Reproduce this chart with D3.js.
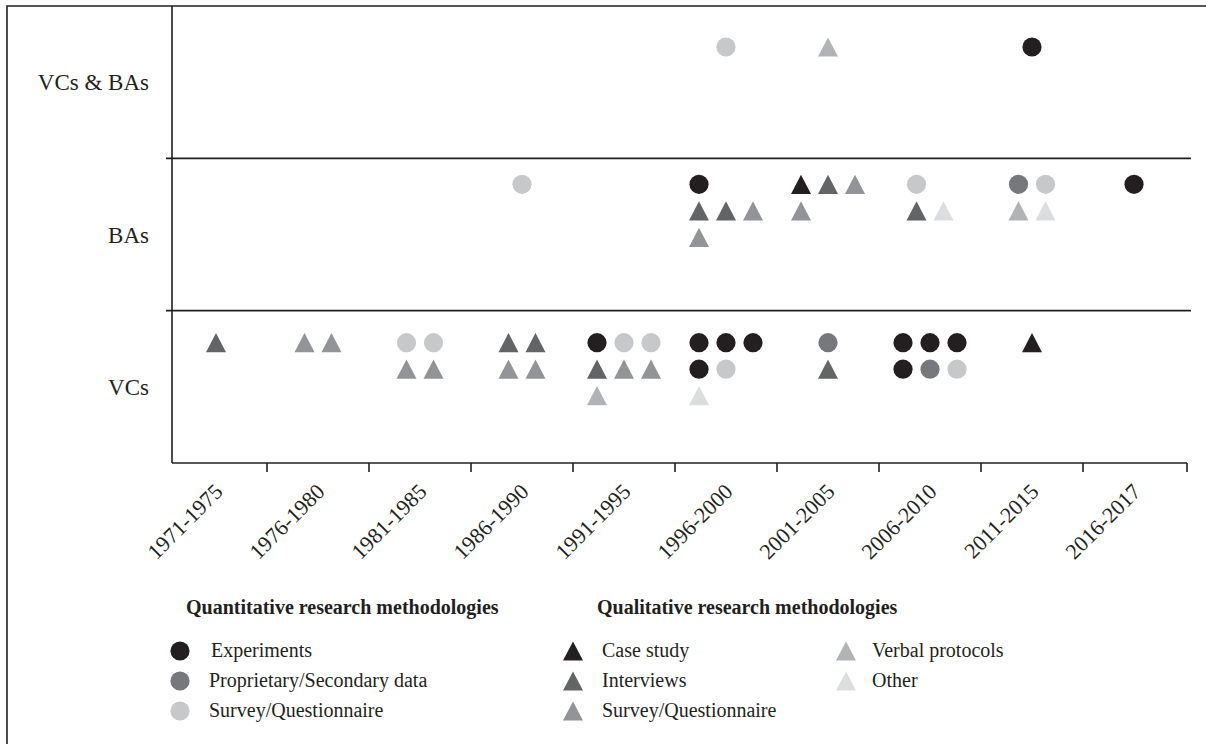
<!DOCTYPE html>
<html>
<head>
<meta charset="utf-8">
<script src="https://cdn.jsdelivr.net/npm/d3@7"></script>
<style>
  body { margin: 0; background: #fff; }
  text { font-family: "Liberation Serif", "Times New Roman", serif; fill: #231f20; }
</style>
</head>
<body>
<svg id="chart" width="1206" height="744"></svg>
<script>
// periods on the x axis, investor groups as lanes
var periods = ["1971-1975", "1976-1980", "1981-1985", "1986-1990", "1991-1995",
               "1996-2000", "2001-2005", "2006-2010", "2011-2015", "2016-2017"];
var lanes = ["VCs & BAs", "BAs", "VCs"];

// methodologies: quantitative ones are circles, qualitative ones triangles
var methods = ["exp", "prop", "surveyC", "case", "int", "surveyT", "verbal", "other"];
var methodLabels = ["Experiments", "Proprietary/Secondary data", "Survey/Questionnaire",
                    "Case study", "Interviews", "Survey/Questionnaire", "Verbal protocols", "Other"];
var methodShapes = ["circle", "circle", "circle", "triangle", "triangle", "triangle", "triangle", "triangle"];
var methodColors = ["#231f20", "#77787b", "#c7c8ca", "#231f20", "#636466", "#929497", "#b1b3b6", "#dcdddf"];

// one mark per study, grouped in rows as in the figure: [period, rows]
var vcsBasCells = [
  ["1996-2000", [["surveyC"]]],
  ["2001-2005", [["verbal"]]],
  ["2011-2015", [["exp"]]]
];
var basCells = [
  ["1986-1990", [["surveyC"]]],
  ["1996-2000", [["exp"], ["int", "int", "surveyT"], ["surveyT"]]],
  ["2001-2005", [["case", "int", "surveyT"], ["surveyT"]]],
  ["2006-2010", [["surveyC"], ["int", "other"]]],
  ["2011-2015", [["prop", "surveyC"], ["verbal", "other"]]],
  ["2016-2017", [["exp"]]]
];
var vcsCells = [
  ["1971-1975", [["int"]]],
  ["1976-1980", [["surveyT", "surveyT"]]],
  ["1981-1985", [["surveyC", "surveyC"], ["surveyT", "surveyT"]]],
  ["1986-1990", [["int", "int"], ["surveyT", "surveyT"]]],
  ["1991-1995", [["exp", "surveyC", "surveyC"], ["int", "surveyT", "surveyT"], ["verbal"]]],
  ["1996-2000", [["exp", "exp", "exp"], ["exp", "surveyC"], ["other"]]],
  ["2001-2005", [["prop"], ["int"]]],
  ["2006-2010", [["exp", "exp", "exp"], ["exp", "prop", "surveyC"]]],
  ["2011-2015", [["case"]]]
];
var laneCells = [vcsBasCells, basCells, vcsCells];

var svg = d3.select("#chart");
var ink = "#231f20";

var x = d3.scaleBand().domain(periods).range([165, 1185]);
var y = d3.scaleBand().domain(lanes).range([6, 463]);
var shape = d3.scaleOrdinal().domain(methods).range(methodShapes);
var color = d3.scaleOrdinal().domain(methods).range(methodColors);

var triangleUp = {
  draw: function(ctx, size) {
    var w = Math.sqrt(size);
    ctx.moveTo(0, -w * 0.48);
    ctx.lineTo(w / 2, w * 0.48);
    ctx.lineTo(-w / 2, w * 0.48);
    ctx.closePath();
  }
};
var circleSym = d3.symbol().type(d3.symbolCircle).size(Math.PI * 9.6 * 9.6);
var triSym = d3.symbol().type(triangleUp).size(400);
function markPath(m) { return shape(m) === "circle" ? circleSym() : triSym(); }

// marks sit on a small grid inside each cell, grid centred on the band
var step = 27, rowGap = 26.5;
var lanePad = [41, 26, 32];
var marks = [];
lanes.forEach(function(lane, li) {
  laneCells[li].forEach(function(cell) {
    var period = cell[0], rows = cell[1];
    var nCols = d3.max(rows, function(r) { return r.length; });
    rows.forEach(function(row, ri) {
      row.forEach(function(m, ci) {
        marks.push({
          method: m,
          cx: x(period) + x.bandwidth() / 2 + (ci - (nCols - 1) / 2) * step,
          cy: y(lane) + lanePad[li] + ri * rowGap
        });
      });
    });
  });
});

// outer frame (top and left edges)
svg.append("path")
    .attr("d", "M7,744V6H1206")
    .attr("fill", "none")
    .attr("stroke", ink)
    .attr("stroke-width", 1.6);

// lane separators
svg.selectAll(".sep")
  .data(lanes.slice(1))
  .enter().append("line")
    .attr("x1", 166).attr("x2", 1191)
    .attr("y1", function(d) { return y(d); })
    .attr("y2", function(d) { return y(d); })
    .attr("stroke", ink)
    .attr("stroke-width", 1.6);

// y axis line and x axis line
svg.append("line")
    .attr("x1", 172).attr("x2", 172)
    .attr("y1", 6).attr("y2", 463)
    .attr("stroke", ink).attr("stroke-width", 1.6);
svg.append("line")
    .attr("x1", 172).attr("x2", x.range()[1] + 2)
    .attr("y1", 463).attr("y2", 463)
    .attr("stroke", ink).attr("stroke-width", 1.6);

svg.selectAll(".tick")
  .data(periods)
  .enter().append("line")
    .attr("x1", function(d, i) { return x(d) + x.bandwidth() + (i === periods.length - 1 ? 2 : 0); })
    .attr("x2", function(d, i) { return x(d) + x.bandwidth() + (i === periods.length - 1 ? 2 : 0); })
    .attr("y1", 463).attr("y2", 472)
    .attr("stroke", ink).attr("stroke-width", 1.6);

svg.selectAll(".tickLabel")
  .data(periods)
  .enter().append("text")
    .attr("text-anchor", "end")
    .attr("font-size", 22)
    .attr("transform", function(d) {
      return "translate(" + (x(d) + x.bandwidth() / 2 + 8) + ",493) rotate(-45)";
    })
    .text(function(d) { return d; });

// lane labels
svg.selectAll(".laneLabel")
  .data(lanes)
  .enter().append("text")
    .attr("x", 149)
    .attr("y", function(d) { return y(d) + y.bandwidth() / 2; })
    .attr("dy", "0.35em")
    .attr("text-anchor", "end")
    .attr("font-size", 23)
    .text(function(d) { return d; });

// markers
svg.selectAll(".mark")
  .data(marks)
  .enter().append("path")
    .attr("transform", function(d) { return "translate(" + d.cx + "," + d.cy + ")"; })
    .attr("d", function(d) { return markPath(d.method); })
    .attr("fill", function(d) { return color(d.method); });

// legend
var legendCols = [
  { title: "Quantitative research methodologies", tx: 186, items: methods.slice(0, 3), mx: 180, lx: 209 },
  { title: "Qualitative research methodologies", tx: 597, items: methods.slice(3, 6), mx: 573, lx: 602 },
  { title: null, items: methods.slice(6), mx: 846, lx: 872 }
];
legendCols.forEach(function(col) {
  if (col.title) {
    svg.append("text")
      .attr("x", col.tx).attr("y", 614)
      .attr("font-size", 20)
      .attr("font-weight", "bold")
      .text(col.title);
  }
  var g = svg.selectAll(null)
    .data(col.items)
    .enter().append("g")
      .attr("transform", function(d, i) { return "translate(0," + (651 + i * 30) + ")"; });
  g.append("path")
    .attr("transform", "translate(" + col.mx + ",0)")
    .attr("d", function(d) { return markPath(d); })
    .attr("fill", function(d) { return color(d); });
  g.append("text")
    .attr("x", function(d) { return col.lx + (d === "exp" ? 2 : 0); })
    .attr("dy", "0.32em")
    .attr("font-size", 20)
    .text(function(d) { return methodLabels[methods.indexOf(d)]; });
});
</script>
</body>
</html>
